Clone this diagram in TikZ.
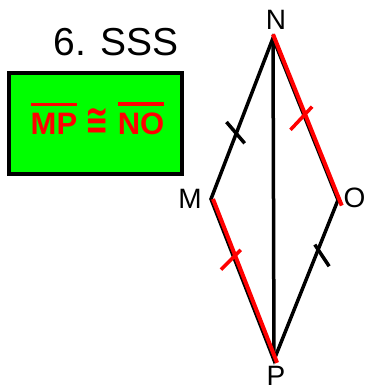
\documentclass[tikz,border=0pt]{standalone}
\usepackage{fontspec}
\usepackage{graphicx}
\setmainfont{Liberation Sans}
\newfontfamily\symfont{DejaVu Sans}
\usetikzlibrary{calc}

\newcommand\barred[1]{\vbox{\hrule height 3.5pt\kern 7.5pt\hbox{#1}}}

\begin{document}
\begin{tikzpicture}[
  x=1pt, y=1pt,
  side/.style={line width=3.5pt},
  redside/.style={line width=4pt, red},
  tickmark/.style={line width=3.5pt},
  vlabel/.style={font=\fontsize{28}{34}\selectfont, inner sep=0pt, anchor=base},
  greenbox/.style={rectangle, draw, line width=4pt, fill=green,
    minimum width=173pt, minimum height=101pt, inner sep=0pt},
]
\useasboundingbox (0,0) rectangle (365,389);

\coordinate (N) at (273,351);
\coordinate (M) at (211,190);
\coordinate (O) at (338,189);
\coordinate (P) at (274,29);

\node[vlabel] (labN) at (276,359.7) {N};
\node[vlabel] (labM) at (190,180) {M};
\node[vlabel] (labO) at (354.5,181.5) {O};
\node[vlabel] (labP) at (276,4) {P};

\node[font=\fontsize{39}{46}\selectfont, inner sep=0pt, anchor=base] (title) at (116,333) {6. SSS};
\node[greenbox] (box) at (95.5,265.5) {};
\node[font=\fontsize{31}{37}\selectfont\bfseries, text=red, inner sep=0pt, anchor=base] (cong) at (97.5,254)
  {\barred{MP} \scalebox{0.9}[1.35]{\symfont ≅} \barred{NO}};

% kite
\draw[side] (N) -- (M) -- (P) -- (O) -- cycle;
\draw[side] (N) -- (P);

% congruent sides in red
\draw[redside, shorten <=-4pt, shorten >=-6pt] ([xshift=1.5pt]N) -- ([xshift=1.5pt]O);
\draw[redside, shorten >=-3pt] ([xshift=2pt]M) -- ([xshift=2pt]P);

% tick marks
\draw[tickmark] ($(M)!0.408!(N)$) +(131:15) -- +(-50:13);
\draw[tickmark] ($(O)!0.31!(P)$) +(124:6) -- +(-56.6:20);
\draw[tickmark, red] ($(N)!0.475!(O)$) +(228:20) -- +(45:11.7);
\draw[tickmark, red] ($(M)!0.36!(P)$) +(225:18) -- +(45:10);

\end{tikzpicture}
\end{document}
